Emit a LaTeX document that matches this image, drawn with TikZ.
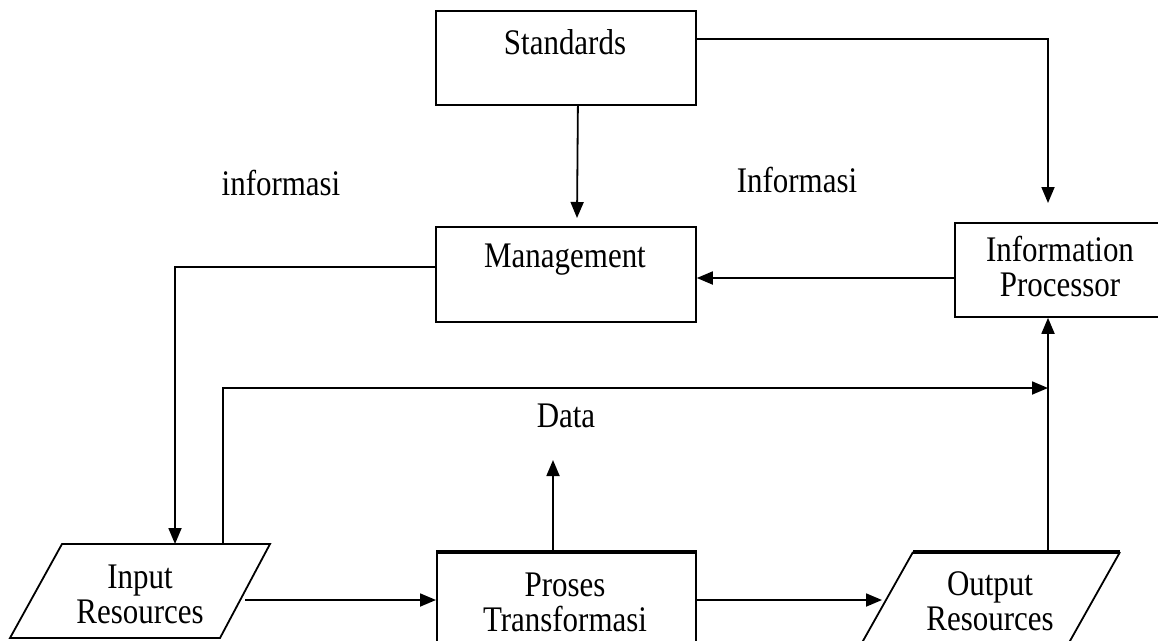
\documentclass[tikz,border=0pt]{standalone}
\usepackage{fontspec}
\setmainfont{Liberation Serif}[FakeStretch=0.86]
\usetikzlibrary{arrows.meta}
\tikzset{
  box/.style={draw, line width=1.8pt, rectangle, inner sep=0pt},
  lbl/.style={font=\fontsize{36}{35}\selectfont, inner sep=0pt, align=center},
  conn/.style={line width=1.8pt},
  arr/.style={line width=1.8pt, -{Triangle[length=16pt,width=13pt]}},
  thick edge/.style={line width=3.6pt}
}
\begin{document}
\begin{tikzpicture}[x=1pt,y=-1pt]
\useasboundingbox (0,0) rectangle (1158,640);
\clip (0,0) rectangle (1158,640);
% boxes
\node[box, minimum width=260pt, minimum height=94pt, anchor=north west] (std) at (435,10) {};
\node[lbl] (stdT) at (565,42) {Standards};
\node[box, minimum width=260pt, minimum height=95pt, anchor=north west] (mgmt) at (435,226) {};
\node[lbl] (mgmtT) at (565,260) {Management};
\node[box, minimum width=220pt, minimum height=94pt, anchor=north west] (ip) at (954,222) {};
\node[lbl] (ipT) at (1060,266) {Information\\Processor};
\node[box, minimum width=259pt, minimum height=120pt, anchor=north west] (pro) at (436,552) {};
\draw[thick edge] (pro.north west) -- (pro.north east);
\node[lbl] (proT) at (565,602) {Proses\\Transformasi};
% input parallelogram
\coordinate (inNW) at (62,544);
\coordinate (inNE) at (270,544);
\coordinate (inSE) at (220,638);
\coordinate (inSW) at (10,638);
\draw[conn, line join=miter] (inNW) -- (inNE) -- (inSE) -- (inSW) -- cycle;
\node[lbl] (inT) at (140,594) {Input\\Resources};
% output parallelogram
\coordinate (outNW) at (913,552);
\coordinate (outNE) at (1120,552);
\coordinate (outSE) at (1057,664);
\coordinate (outSW) at (850,664);
\draw[conn] (outNE) -- (outSE);
\draw[conn] (outNW) -- (outSW);
\draw[thick edge] (outNW) -- (outNE);
\node[lbl] (outT) at (990,601) {Output\\Resources};
% labels
\node[lbl] (data) at (566,416) {Data};
\node[lbl] (inf1) at (797,180) {Informasi};
\node[lbl] (inf2) at (281,183) {informasi};
% connection points
\coordinate (stdD) at ([xshift=12pt]std.south);
\coordinate (mgmtU) at (577,218);
\coordinate (ipU) at (1048,203);
\coordinate (inTopA) at (175,544);
\coordinate (inTopB) at (223,544);
\coordinate (inR) at (245,600);
\coordinate (outL) at (882,600);
\coordinate (outTop) at (1048,552);
\coordinate (dataTip) at (553,460);
\coordinate (dataEnd) at (1048,388);
% connectors
\draw[arr] (stdD) -- (mgmtU);
\draw[arr] (std.east |- 0,39) -| (ipU);
\draw[arr] (ip.west |- 0,278) -- (mgmt.east |- 0,278);
\draw[arr] (mgmt.west |- 0,267) -| (inTopA);
\draw[arr] (inTopB) |- (dataEnd);
\draw[arr] (outTop) -- (outTop |- ip.south);
\draw[arr] (inR) -- (pro.west |- inR);
\draw[arr] (pro.east |- outL) -- (outL);
\draw[arr] (dataTip |- pro.north) -- (dataTip);
\end{tikzpicture}
\end{document}
